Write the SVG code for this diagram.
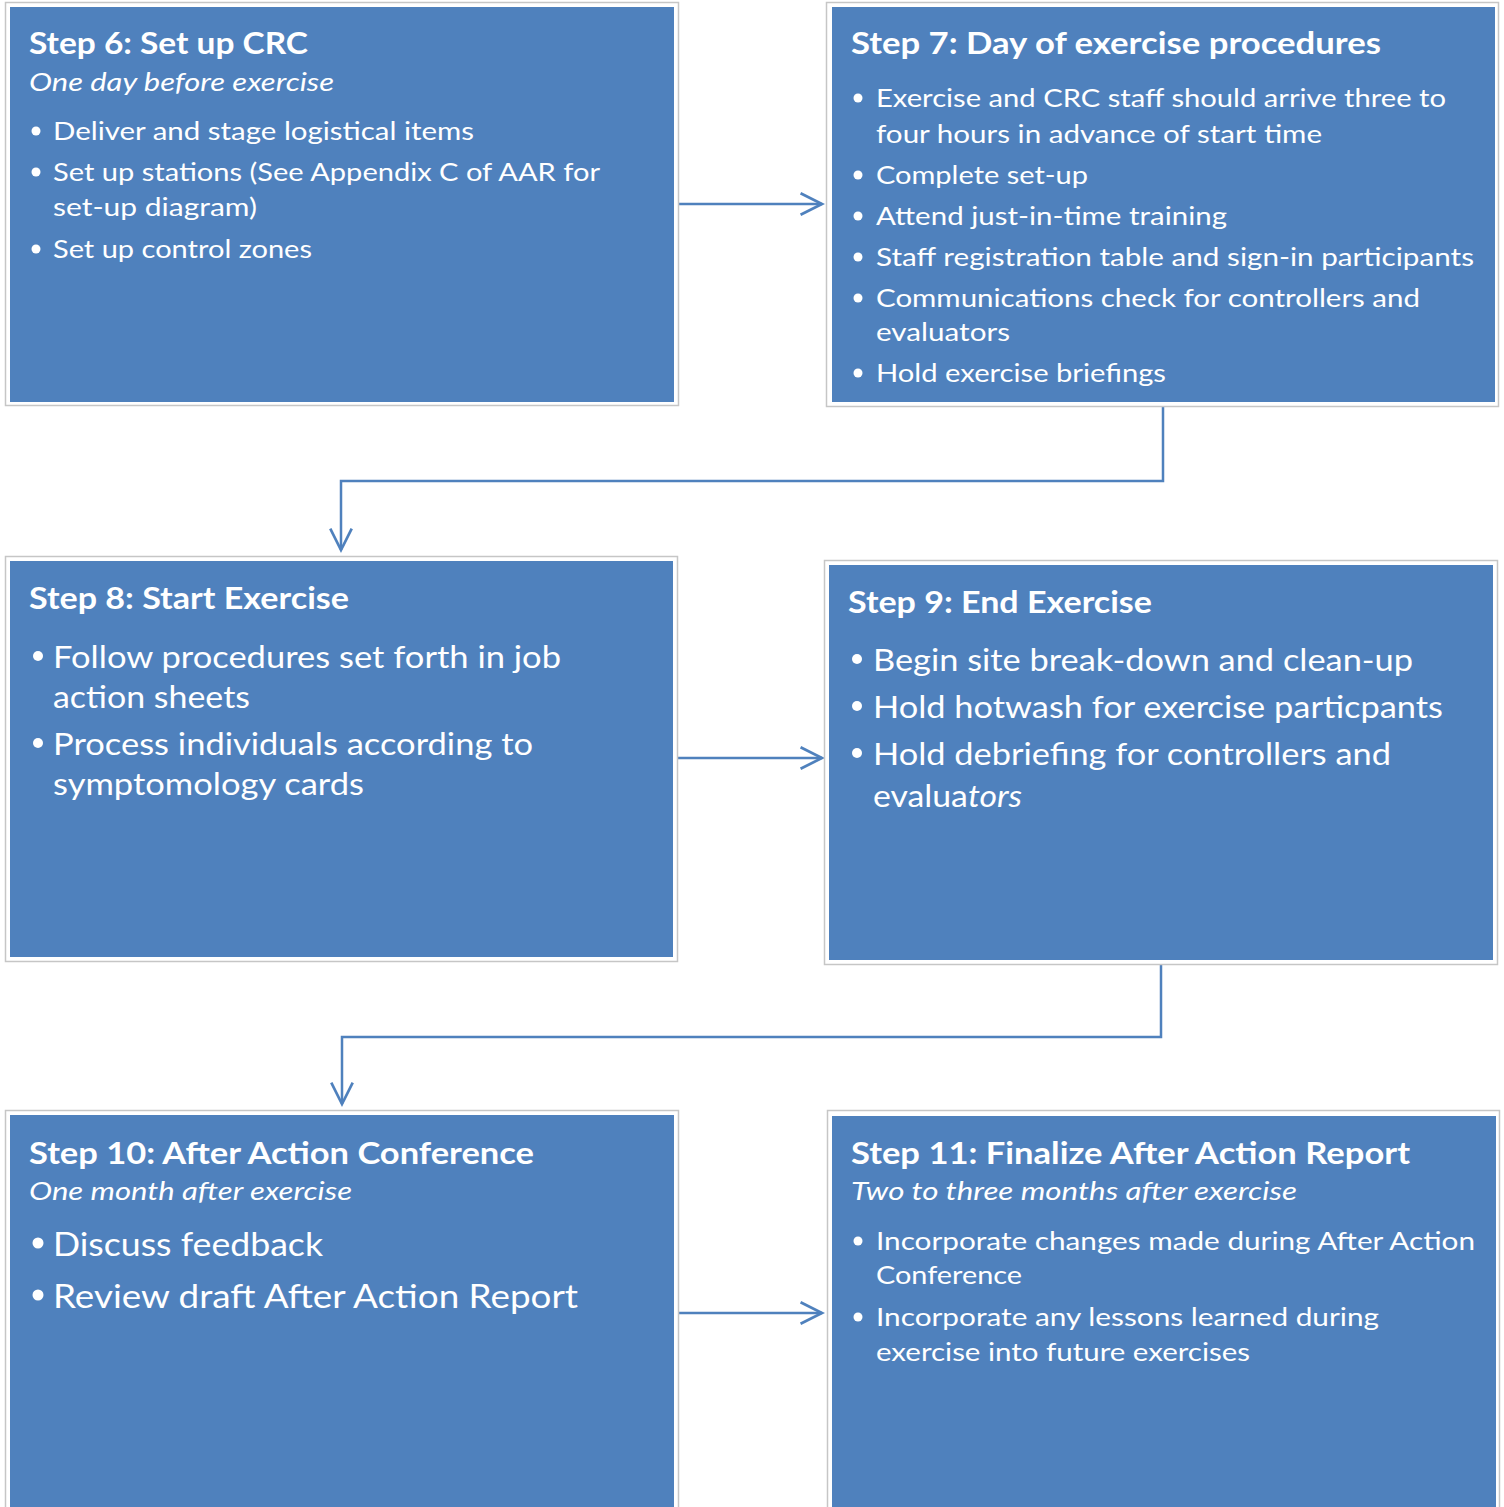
<svg xmlns="http://www.w3.org/2000/svg" width="1504" height="1507" viewBox="0 0 1504 1507">
<style>
.outer{fill:#ffffff;stroke:#c6c6c6;stroke-width:1.5}
.box{fill:#4f81bd}
text{fill:#ffffff;font-family:Lato,"Liberation Sans",sans-serif}
.t{font-weight:bold;font-size:30px}
.i{font-style:italic;font-size:26px}
.b{font-size:25px}
.b2{font-size:30px}
.b3{font-size:32px}
.dot{fill:#ffffff}
.conn{fill:none;stroke:#4f81bd;stroke-width:2.5}
</style>
<defs>
<marker id="arr" markerUnits="userSpaceOnUse" markerWidth="30" markerHeight="30" viewBox="-24 -14 28 28" refX="0" refY="0" orient="auto">
<path d="M-20,-10 L0,0 L-20,10" fill="none" stroke="#4f81bd" stroke-width="2.5"/>
</marker>
</defs>
<rect width="1504" height="1507" fill="#ffffff"/>
<g id="connectors">
<path class="conn" d="M679,204 H822" marker-end="url(#arr)"/>
<path class="conn" d="M1163,407 V481 H341 V550" marker-end="url(#arr)"/>
<path class="conn" d="M678,758 H822" marker-end="url(#arr)"/>
<path class="conn" d="M1161,965 V1037 H342 V1104" marker-end="url(#arr)"/>
<path class="conn" d="M679,1313 H822" marker-end="url(#arr)"/>
</g>
<g id="step6">
<rect class="outer" x="5.5" y="2.5" width="673" height="403"/>
<rect class="box" x="10" y="7" width="664" height="395"/>
<text class="t" x="29" y="54" textLength="279" lengthAdjust="spacingAndGlyphs">Step 6: Set up CRC</text>
<text class="i" x="29" y="91" textLength="305" lengthAdjust="spacingAndGlyphs">One day before exercise</text>
<circle class="dot" cx="36" cy="131" r="4.5"/>
<text class="b" x="53" y="140" textLength="421" lengthAdjust="spacingAndGlyphs">Deliver and stage logistical items</text>
<circle class="dot" cx="36" cy="172" r="4.5"/>
<text class="b" x="53" y="181" textLength="547" lengthAdjust="spacingAndGlyphs">Set up stations (See Appendix C of AAR for</text>
<text class="b" x="53" y="216" textLength="204" lengthAdjust="spacingAndGlyphs">set-up diagram)</text>
<circle class="dot" cx="36" cy="249" r="4.5"/>
<text class="b" x="53" y="258" textLength="259" lengthAdjust="spacingAndGlyphs">Set up control zones</text>
</g>
<g id="step7">
<rect class="outer" x="826.5" y="2.5" width="672" height="404"/>
<rect class="box" x="832" y="7" width="663" height="395"/>
<text class="t" x="851" y="54" textLength="530" lengthAdjust="spacingAndGlyphs">Step 7: Day of exercise procedures</text>
<circle class="dot" cx="858" cy="98" r="4.5"/>
<text class="b" x="876" y="107" textLength="570" lengthAdjust="spacingAndGlyphs">Exercise and CRC staff should arrive three to</text>
<text class="b" x="876" y="143" textLength="446" lengthAdjust="spacingAndGlyphs">four hours in advance of start time</text>
<circle class="dot" cx="858" cy="175" r="4.5"/>
<text class="b" x="876" y="184" textLength="212" lengthAdjust="spacingAndGlyphs">Complete set-up</text>
<circle class="dot" cx="858" cy="216" r="4.5"/>
<text class="b" x="876" y="225" textLength="351" lengthAdjust="spacingAndGlyphs">Attend just-in-time training</text>
<circle class="dot" cx="858" cy="257" r="4.5"/>
<text class="b" x="876" y="266" textLength="598" lengthAdjust="spacingAndGlyphs">Staff registration table and sign-in participants</text>
<circle class="dot" cx="858" cy="298" r="4.5"/>
<text class="b" x="876" y="307" textLength="544" lengthAdjust="spacingAndGlyphs">Communications check for controllers and</text>
<text class="b" x="876" y="341" textLength="134" lengthAdjust="spacingAndGlyphs">evaluators</text>
<circle class="dot" cx="858" cy="373" r="4.5"/>
<text class="b" x="876" y="382" textLength="290" lengthAdjust="spacingAndGlyphs">Hold exercise briefings</text>
</g>
<g id="step8">
<rect class="outer" x="5.5" y="556.5" width="672" height="405"/>
<rect class="box" x="10" y="561" width="663" height="396"/>
<text class="t" x="29" y="609" textLength="320" lengthAdjust="spacingAndGlyphs">Step 8: Start Exercise</text>
<circle class="dot" cx="38" cy="656" r="5"/>
<text class="b2" x="53" y="668" textLength="508" lengthAdjust="spacingAndGlyphs">Follow procedures set forth in job</text>
<text class="b2" x="53" y="708" textLength="197" lengthAdjust="spacingAndGlyphs">action sheets</text>
<circle class="dot" cx="38" cy="743" r="5"/>
<text class="b2" x="53" y="755" textLength="480" lengthAdjust="spacingAndGlyphs">Process individuals according to</text>
<text class="b2" x="53" y="795" textLength="311" lengthAdjust="spacingAndGlyphs">symptomology cards</text>
</g>
<g id="step9">
<rect class="outer" x="824.5" y="560.5" width="673" height="404"/>
<rect class="box" x="829" y="565" width="664" height="395"/>
<text class="t" x="848" y="613" textLength="304" lengthAdjust="spacingAndGlyphs">Step 9: End Exercise</text>
<circle class="dot" cx="857" cy="659" r="5"/>
<text class="b2" x="873" y="671" textLength="540" lengthAdjust="spacingAndGlyphs">Begin site break-down and clean-up</text>
<circle class="dot" cx="857" cy="706" r="5"/>
<text class="b2" x="873" y="718" textLength="570" lengthAdjust="spacingAndGlyphs">Hold hotwash for exercise particpants</text>
<circle class="dot" cx="857" cy="753" r="5"/>
<text class="b2" x="873" y="765" textLength="518" lengthAdjust="spacingAndGlyphs">Hold debriefing for controllers and</text>
<text class="b2" x="873" y="807" textLength="149" lengthAdjust="spacingAndGlyphs">evalua<tspan font-style="italic">tors</tspan></text>
</g>
<g id="step10">
<rect class="outer" x="5.5" y="1110.5" width="673" height="400"/>
<rect class="box" x="10" y="1115" width="664" height="395"/>
<text class="t" x="29" y="1164" textLength="505" lengthAdjust="spacingAndGlyphs">Step 10: After Action Conference</text>
<text class="i" x="29" y="1200" textLength="323" lengthAdjust="spacingAndGlyphs">One month after exercise</text>
<circle class="dot" cx="38" cy="1243" r="5.5"/>
<text class="b3" x="53" y="1256" textLength="270" lengthAdjust="spacingAndGlyphs">Discuss feedback</text>
<circle class="dot" cx="38" cy="1295" r="5.5"/>
<text class="b3" x="53" y="1308" textLength="525" lengthAdjust="spacingAndGlyphs">Review draft After Action Report</text>
</g>
<g id="step11">
<rect class="outer" x="827.5" y="1110.5" width="672" height="400"/>
<rect class="box" x="832" y="1116" width="664" height="395"/>
<text class="t" x="851" y="1164" textLength="559" lengthAdjust="spacingAndGlyphs">Step 11: Finalize After Action Report</text>
<text class="i" x="851" y="1200" textLength="446" lengthAdjust="spacingAndGlyphs">Two to three months after exercise</text>
<circle class="dot" cx="858" cy="1241" r="4.5"/>
<text class="b" x="876" y="1250" textLength="599" lengthAdjust="spacingAndGlyphs">Incorporate changes made during After Action</text>
<text class="b" x="876" y="1284" textLength="146" lengthAdjust="spacingAndGlyphs">Conference</text>
<circle class="dot" cx="858" cy="1317" r="4.5"/>
<text class="b" x="876" y="1326" textLength="503" lengthAdjust="spacingAndGlyphs">Incorporate any lessons learned during</text>
<text class="b" x="876" y="1361" textLength="374" lengthAdjust="spacingAndGlyphs">exercise into future exercises</text>
</g>
</svg>
